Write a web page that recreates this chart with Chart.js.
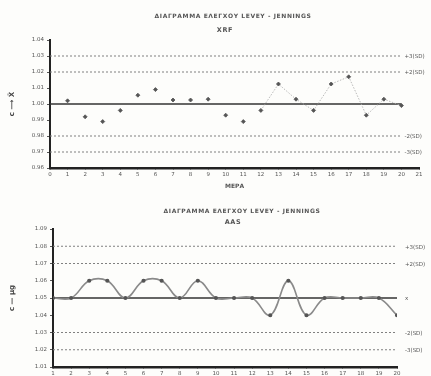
<!DOCTYPE html>
<html>
<head>
<meta charset="utf-8">
<script src="https://cdn.jsdelivr.net/npm/chart.js@4"></script>
<style>
  html, body { margin: 0; padding: 0; background: #fdfdfb; }
  canvas { position: absolute; left: 0; }
  #xrf { top: 0; }
  #aas { top: 190px; }
</style>
</head>
<body>
<canvas id="xrf" width="431" height="190"></canvas>
<canvas id="aas" width="431" height="186"></canvas>
<script>
// XRF control sample, days 1..20
var xrfDays = [1, 2, 3, 4, 5, 6, 7, 8, 9, 10, 11, 12, 13, 14, 15, 16, 17, 18, 19, 20];
var xrfValues = [1.002, 0.992, 0.989, 0.996, 1.0055, 1.009, 1.0025, 1.0025, 1.003, 0.993,
                 0.989, 0.996, 1.0125, 1.003, 0.996, 1.0125, 1.017, 0.993, 1.003, 0.999];
var xrfMean = 1.00;
var xrfSd = 0.01;

// AAS control sample, days 1..20
var aasDays = [1, 2, 3, 4, 5, 6, 7, 8, 9, 10, 11, 12, 13, 14, 15, 16, 17, 18, 19, 20];
var aasValues = [1.05, 1.05, 1.06, 1.06, 1.05, 1.06, 1.06, 1.05, 1.06, 1.05,
                 1.05, 1.05, 1.04, 1.06, 1.04, 1.05, 1.05, 1.05, 1.05, 1.04];
var aasMean = 1.05;
var aasSd = 0.01;

var limitFactors = [3, 2, -2, -3];
var limitLabels = ['+3(SD)', '+2(SD)', '-2(SD)', '-3(SD)'];

var titleText = 'ΔΙΑΓΡΑΜΜΑ ΕΛΕΓΧΟΥ LEVEY - JENNINGS';
var textColor = '#555';
var fontFamily = '"DejaVu Sans", sans-serif';

function limitDatasets(mean, sd, xStart, xEnd, meanLabel) {
  var sets = [];
  limitFactors.forEach(function(f, i) {
    var v = mean + f * sd;
    sets.push({
      type: 'line',
      data: [{x: xStart, y: v}, {x: xEnd, y: v}],
      borderColor: '#808080',
      borderWidth: 1,
      borderDash: [2, 2],
      pointRadius: 0,
      sideLabel: limitLabels[i]
    });
  });
  sets.push({
    type: 'line',
    data: [{x: xStart, y: mean}, {x: xEnd, y: mean}],
    borderColor: '#333',
    borderWidth: 1.6,
    pointRadius: 0,
    sideLabel: meanLabel
  });
  return sets;
}

// draws the two title lines and the labels at the end of the limit lines
function makeTextPlugin(subtitle, titleX, subX, titleY, subY, labelGap) {
  return {
    id: 'texts',
    afterDatasetsDraw: function(chart) {
      var ctx = chart.ctx;
      ctx.save();
      ctx.fillStyle = textColor;
      ctx.textBaseline = 'middle';
      ctx.textAlign = 'center';
      ctx.letterSpacing = '0.6px';
      ctx.font = 'bold 6px ' + fontFamily;
      ctx.fillText(titleText, titleX, titleY);
      ctx.font = 'bold 6.5px ' + fontFamily;
      ctx.fillText(subtitle, subX, subY);
      ctx.letterSpacing = '0px';
      ctx.textAlign = 'left';
      ctx.font = '5.5px ' + fontFamily;
      chart.data.datasets.forEach(function(ds, i) {
        if (!ds.sideLabel) return;
        var pts = chart.getDatasetMeta(i).data;
        var p = pts[pts.length - 1];
        ctx.fillText(ds.sideLabel, p.x + labelGap, p.y + 1);
      });
      ctx.restore();
    }
  };
}

function baseScales(opts) {
  return {
    x: {
      type: 'linear',
      min: opts.xMin,
      max: opts.xMax,
      ticks: { stepSize: 1, color: textColor, font: { size: 5.5, family: fontFamily }, padding: 1, maxRotation: 0, autoSkip: false },
      grid: { display: true, drawOnChartArea: false, tickLength: 2, color: '#555' },
      border: { color: '#222', width: 2.5 },
      title: { display: !!opts.xTitle, text: opts.xTitle || '', color: textColor, font: { size: 6, family: fontFamily, weight: 'bold' }, padding: 0 },
      afterFit: function(scale) { scale.height = opts.xHeight; }
    },
    y: {
      min: opts.yMin,
      max: opts.yMax,
      ticks: {
        stepSize: 0.01, color: textColor, font: { size: 5.5, family: fontFamily }, padding: 3,
        callback: function(v) { return v.toFixed(2); }
      },
      grid: { display: true, drawOnChartArea: false, tickLength: 3, color: '#555' },
      border: { color: '#222', width: 2 },
      title: { display: true, text: opts.yTitle, color: '#444', font: { size: 7, family: fontFamily, weight: 'bold' }, padding: { top: 8, bottom: 0 } },
      afterFit: function(scale) { scale.width = opts.yWidth; }
    }
  };
}

// top chart: XRF, scattered points, faint line over the last days
new Chart(document.getElementById('xrf').getContext('2d'), {
  type: 'scatter',
  data: {
    datasets: [{
      data: xrfDays.map(function(d, i) { return {x: d, y: xrfValues[i]}; }),
      showLine: true,
      borderColor: '#aaa',
      borderWidth: 0.8,
      borderDash: [1.5, 1.5],
      segment: {
        borderColor: function(c) { return c.p0DataIndex >= 11 ? '#aaa' : 'rgba(0,0,0,0)'; }
      },
      pointStyle: 'rectRot',
      pointRadius: 2,
      backgroundColor: '#555',
      pointBorderColor: '#555',
      order: 0
    }].concat(limitDatasets(xrfMean, xrfSd, 0, 20, ''))
  },
  options: {
    responsive: false,
    animation: false,
    layout: { padding: { top: 40, right: 12, left: 0, bottom: 0 } },
    plugins: { legend: { display: false }, tooltip: { enabled: false } },
    scales: baseScales({ xMin: 0, xMax: 21, yMin: 0.96, yMax: 1.04, xTitle: 'ΜΕΡΑ', xHeight: 22, yWidth: 50, yTitle: 'c ⟶ X̄' })
  },
  plugins: [makeTextPlugin('XRF', 233, 225, 16, 30, 3)]
});

// bottom chart: AAS, smoothed line
new Chart(document.getElementById('aas').getContext('2d'), {
  type: 'line',
  data: {
    datasets: [{
      data: aasDays.map(function(d, i) { return {x: d, y: aasValues[i]}; }),
      borderColor: '#8a8a8a',
      borderWidth: 1.6,
      tension: 0.4,
      pointRadius: 1.3,
      backgroundColor: '#555',
      pointBorderColor: '#555',
      order: 0
    }].concat(limitDatasets(aasMean, aasSd, 1, 20, 'x'))
  },
  options: {
    responsive: false,
    animation: false,
    layout: { padding: { top: 39, right: 34, left: 0, bottom: 0 } },
    plugins: { legend: { display: false }, tooltip: { enabled: false } },
    scales: baseScales({ xMin: 1, xMax: 20, yMin: 1.01, yMax: 1.09, xTitle: '', xHeight: 9, yWidth: 53, yTitle: 'c — μg' })
  },
  plugins: [makeTextPlugin('AAS', 242, 233, 21, 32, 8)]
});
</script>
</body>
</html>
